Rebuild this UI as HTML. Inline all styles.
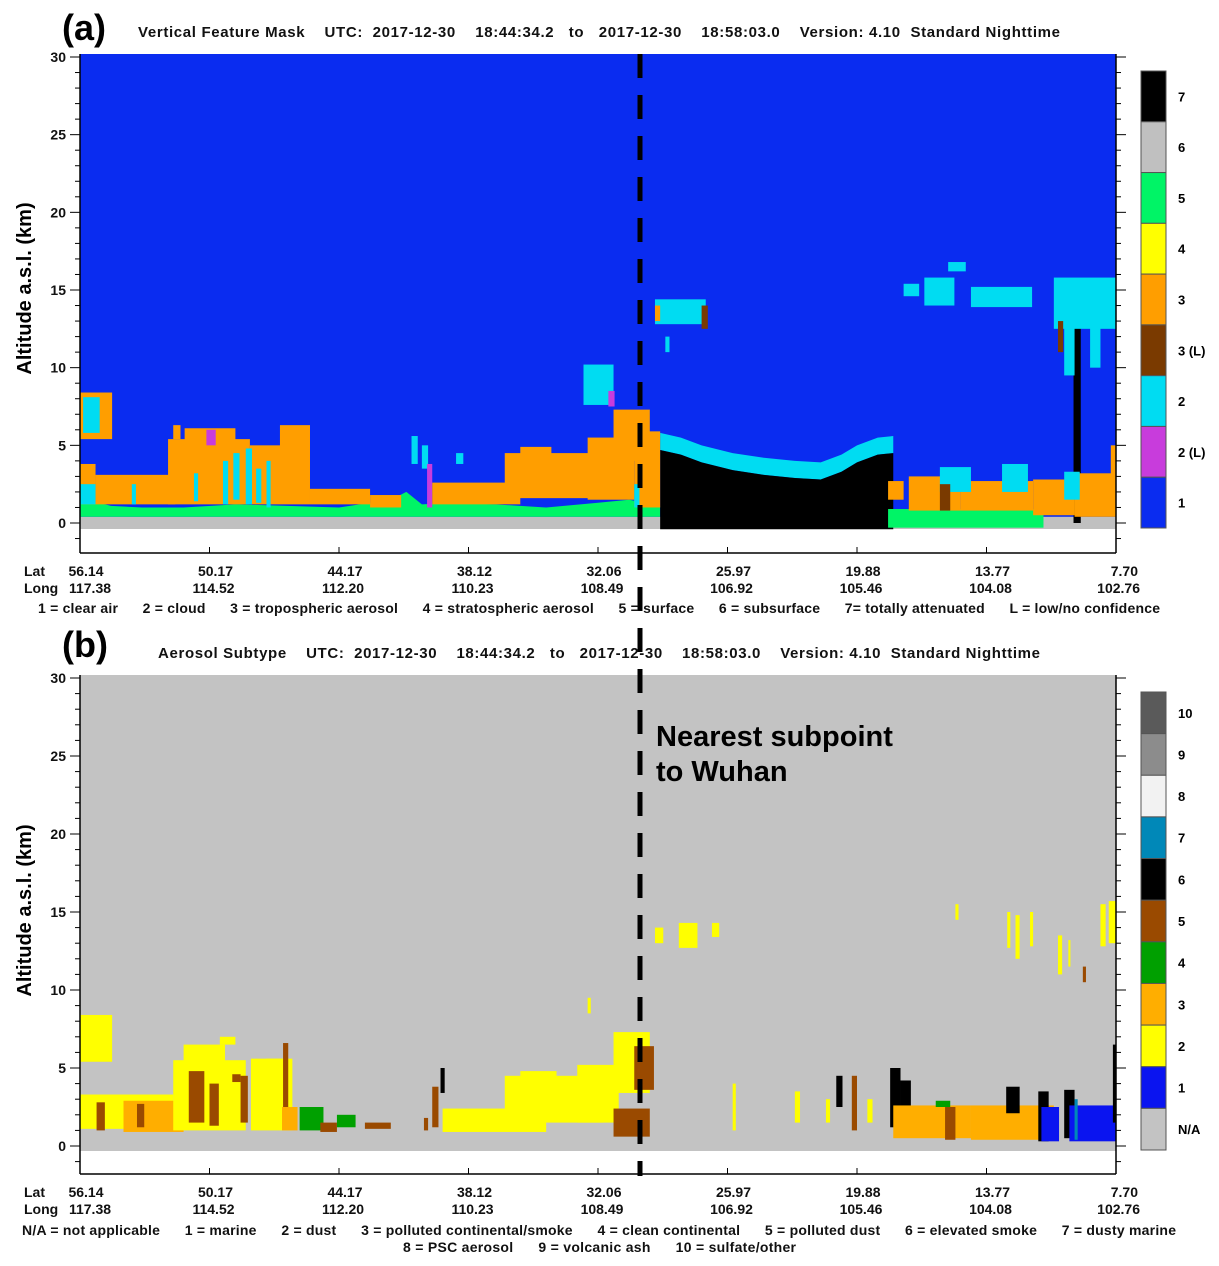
<!DOCTYPE html>
<html><head><meta charset="utf-8">
<style>
html,body{margin:0;padding:0;background:#fff;}
svg{display:block;font-family:"Liberation Sans",sans-serif;}
.t{font-weight:bold;font-size:15px;fill:#111;}
.tk{font-weight:bold;font-size:14px;fill:#111;}
</style></head>
<body>
<svg id="chart" width="1219" height="1266" viewBox="0 0 1219 1266" xmlns="http://www.w3.org/2000/svg">
<g id="root"></g>
</svg>
<script>
// ---------- data ----------
const latLabels=["56.14","50.17","44.17","38.12","32.06","25.97","19.88","13.77","7.70"];
const lonLabels=["117.38","114.52","112.20","110.23","108.49","106.92","105.46","104.08","102.76"];
const altTicks=[0,5,10,15,20,25,30];
const vfmLegend=["7","6","5","4","3","3 (L)","2","2 (L)","1"];
const vfmColors=["#000000","#c0c0c0","#00f466","#ffff00","#ff9e00","#7a3a00","#00dcf2","#c83cdc","#0a2cf0"];
const subLegend=["10","9","8","7","6","5","4","3","2","1","N/A"];
const subColors=["#5a5a5a","#8c8c8c","#f2f2f2","#0088b8","#000000","#9a4a00","#00a000","#ffae00","#ffff00","#0a14f0","#c3c3c3"];
const greenU=[0,3,6,10,15,20,25,30,31.5,33,36,40,45,50,53,56];
const greenTop=[1.6,1.1,1.0,1.0,1.2,1.1,1.0,1.5,2.0,1.2,1.3,1.2,1.0,1.3,1.5,1.1];
const bandU=[56,58,60,63,66,69,71.5,73.5,75,77,78.5];
const bandTop=[5.8,5.5,5.0,4.5,4.2,4.0,3.9,4.4,5.0,5.5,5.6];
const featA=[
[0,3.1,5.4,8.4,"3"],[0.3,1.9,5.8,8.1,"2"],
[0,1.5,1.2,3.8,"3"],[0,1.5,1.2,2.5,"2"],[1.5,9.2,1.2,3.1,"3"],
[8.5,16.4,1.2,5.4,"3"],[10.1,15,4.7,6.1,"3"],[12.2,13.1,5,6,"2L"],[9,9.7,5.4,6.3,"3"],
[16.4,22.2,1.2,5,"3"],[19.3,22.2,4.8,6.3,"3"],
[13.8,14.3,1.2,4],[14.8,15.4,1.5,4.5],[16,16.6,1.2,4.8],[17,17.5,1.3,3.5],[18,18.4,1,4],[5,5.4,1.2,2.5],[11,11.4,1.4,3.2],
[22.2,28,1.2,2.2,"3"],[28,31,1,1.8,"3"],
[32,32.6,3.8,5.6,"2"],[33,33.6,3.5,5,"2"],[36.3,37,3.8,4.5,"2"],[33.5,34,1,3.8,"2L"],
[34,42.5,1.2,2.6,"3"],[41,50.5,1.6,4.5,"3"],[42.5,45.5,3.4,4.9,"3"],[49,53.5,1.5,5.5,"3"],[51.5,55,4,7.3,"3"],
[48.6,51.5,7.6,10.2,"2"],[51,51.6,7.5,8.5,"2L"],[53.5,56,1,5.9,"3"],[53.5,54,1,2.5,"2"],
[95.9,96.6,0,13.5,"7"],
[55.5,60.4,12.8,14.4,"2"],[55.5,56,13,14,"3"],[60,60.6,12.5,14,"3L"],[56.5,56.9,11,12,"2"],
[79.5,81,14.6,15.4,"2"],[81.5,84.4,14,15.8,"2"],[83.8,85.5,16.2,16.8,"2"],[86,91.9,13.9,15.2,"2"],
[94,100,12.5,15.8,"2"],[95,96,9.5,13,"2"],[97.5,98.5,10,13,"2"],[94.4,94.9,11,13,"3L"],
[78,93,-0.3,0.9,"5"],
[78,79.5,1.5,2.7,"3"],[80,85,0.8,3.0,"3"],[85,92,0.8,2.7,"3"],[92,96,0.5,2.8,"3"],[96,100,0.4,3.2,"3"],
[83,86,2,3.6,"2"],[89,91.5,2,3.8,"2"],[95,96.5,1.5,3.3,"2"],[83,84,0.8,2.5,"3L"],[99.5,100,1,5,"3"]
];
const featB=[
[0,3.1,5.4,8.4,"2"],[0,9,1.1,3.3,"2"],[4.2,10,0.9,2.9,"3"],[1.6,2.4,1,2.8,"5"],[5.5,6.2,1.2,2.7,"5"],
[9.3,11.1,1.9,2.6,"4"],[9,16,1,5.5,"2"],[10,14,4.8,6.5,"2"],[13.5,15,6.5,7,"2"],
[10.5,12,1.5,4.8,"5"],[12.5,13.4,1.3,4,"5"],[14.7,15.5,4.1,4.6,"5"],[15.5,16.2,1.5,4.5,"5"],
[16.5,20.5,1,5.6,"2"],[18,20,4,5.6,"2"],[19.6,20.1,1.5,6.6,"5"],[19.5,21,1,2.5,"3"],
[21.2,23.5,1,2.5,"4"],[23.2,24.8,0.9,1.5,"5"],[24.8,26.6,1.2,2,"4"],
[27.5,30,1.1,1.5,"5"],[33.2,33.6,1,1.8,"5"],[34,34.6,1.2,3.8,"5"],[34.8,35.2,3.4,5,"6"],
[35,45,0.9,2.4,"2"],[41,50.5,1.5,4.5,"2"],[42.5,46,3.4,4.8,"2"],[48,52,1.5,5.2,"2"],
[51.5,55,3.4,7.3,"2"],[53.5,55.4,3.6,6.4,"5"],[51.5,55,0.6,2.4,"5"],[49,49.3,8.5,9.5,"2"],
[55.5,56.3,13,14,"2"],[57.8,59.6,12.7,14.3,"2"],[61,61.7,13.4,14.3,"2"],[63,63.3,1,4,"2"],
[69,69.5,1.5,3.5,"2"],[72,72.4,1.5,3,"2"],[73,73.6,2.5,4.5,"6"],[74.5,75,1,4.5,"5"],[76,76.5,1.5,3,"2"],
[78.2,79.2,1.2,5,"6"],[79.2,80.2,2.5,4.2,"6"],
[78.5,86,0.5,2.6,"3"],[86,94,0.4,2.6,"3"],[83.5,84.5,0.4,2.5,"5"],[82.6,84,2.5,2.9,"4"],
[89.4,90.7,2.1,3.8,"6"],[92.5,93.5,0.3,3.5,"6"],[95,96,0.5,3.6,"6"],
[92.8,94.5,0.3,2.5,"1"],[95.5,100,0.3,2.6,"1"],[96,96.3,0.4,3,"7"],[99.7,100,1.5,6.5,"6"],
[89.5,89.8,12.7,15],[90.3,90.7,12,14.8],[91.7,92,12.8,15],[94.4,94.8,11,13.5],[95.4,95.6,11.5,13.2],
[98.5,99,12.8,15.5],[99.3,100,13,15.7],[84.5,84.8,14.5,15.5],[96.8,97.1,10.5,11.5,"5"]
];
const clsA={"1":"#0a2cf0","2":"#00dcf2","2L":"#c83cdc","3":"#ff9e00","3L":"#7a3a00","4":"#ffff00","5":"#00f466","6":"#c0c0c0","7":"#000"};
const clsB={"1":"#0a14f0","2":"#ffff00","3":"#ffae00","4":"#00a000","5":"#9a4a00","6":"#000","7":"#0088b8"};

const NS="http://www.w3.org/2000/svg";
const root=document.getElementById('root');
function mk(tag,attrs,parent){const e=document.createElementNS(NS,tag);for(const k in attrs)e.setAttribute(k,attrs[k]);(parent||root).appendChild(e);return e;}
const X0=80,X1=1116;
const xU=u=>X0+u*(X1-X0)/100;
const panels=[
 {top:54,zero:523,fillBot:529,axis:553,bg:"#0a2cf0",feats:featA,cls:clsA,def:"2",name:"vfm"},
 {top:675,zero:1146,fillBot:1151,axis:1174,bg:"#c3c3c3",feats:featB,cls:clsB,def:"2",name:"subtype"}
];
panels.forEach((p,pi)=>{
 const kmPx=(p.zero-(p.top+3))/30;
 const y=km=>p.zero-km*kmPx;
 const g=mk('g',{});
 
 
 mk('rect',{x:X0,y:p.top,width:X1-X0,height:p.fillBot-p.top,fill:p.bg},g);
 if(pi===0){
  const sr=mk('rect',{x:X0,y:y(0.4),width:X1-X0,height:p.fillBot-y(0.4),fill:"#c0c0c0"},g);
  
  
  let pts=[];
  greenU.forEach((u,i)=>pts.push(xU(u)+","+y(greenTop[i])));
  pts.push(xU(56)+","+y(0.4),xU(0)+","+y(0.4));
  const gp=mk('polygon',{points:pts.join(" "),fill:"#00f466"},g);
  
  
  let bp=[],bl=[];
  bandU.forEach((u,i)=>{bp.push(xU(u)+","+y(bandTop[i]));});
  for(let i=bandU.length-1;i>=0;i--)bl.push(xU(bandU[i])+","+y(bandTop[i]-1.1));
  const cb=mk('polygon',{points:bp.concat(bl).join(" "),fill:"#00dcf2"},g);
  
  
  let kp=[];
  bandU.forEach((u,i)=>kp.push(xU(u)+","+y(bandTop[i]-1.1)));
  kp.push(xU(bandU[bandU.length-1])+","+y(-0.4),xU(bandU[0])+","+y(-0.4));
  const ka=mk('polygon',{points:kp.join(" "),fill:"#000"},g);
  
  
 }
 p.feats.forEach(f=>{
  const c=p.cls[f[4]||p.def];
  const r=mk('rect',{x:xU(f[0]),y:y(f[3]),width:Math.max(1,xU(f[1])-xU(f[0])),height:Math.max(1,y(f[2])-y(f[3])),fill:c},g);
  
  
 });
 mk('line',{x1:X0,y1:p.top,x2:X0,y2:p.axis,stroke:"#000","stroke-width":1.5},g);
 mk('line',{x1:X1,y1:p.top,x2:X1,y2:p.axis,stroke:"#000","stroke-width":1.5},g);
 mk('line',{x1:X0,y1:p.axis,x2:X1,y2:p.axis,stroke:"#000","stroke-width":1.5},g);
 for(let k=-1;k<=30;k++){
  const major=k%5===0;
  const len=major?10:5;
  mk('line',{x1:X0-len,y1:y(k),x2:X0,y2:y(k),stroke:"#000"},g);
  mk('line',{x1:X1,y1:y(k),x2:X1+len,y2:y(k),stroke:"#000"},g);
 }
 altTicks.forEach(t=>{
  const tx=mk('text',{x:X0-14,y:y(t)+5,"text-anchor":"end",class:"tk"},g);
  tx.textContent=t;
  
  
 });
 latLabels.forEach((l,i)=>{
  const xx=X0+i*(X1-X0)/8;
  mk('line',{x1:xx,y1:p.axis-6,x2:xx,y2:p.axis,stroke:"#000"},g);
  const t1=mk('text',{x:i===8?xx+22:xx+6,y:p.axis+23,"text-anchor":i===8?"end":"middle",class:"tk"},g);
  t1.textContent=l;
  
  
  const t2=mk('text',{x:i===0?xx+10:(i===8?xx+24:xx+4),y:p.axis+40,"text-anchor":i===8?"end":"middle",class:"tk"},g);
  t2.textContent=lonLabels[i];
  
  
 });
 const la=mk('text',{x:24,y:p.axis+23,class:"tk"},g);la.textContent="Lat";
 const lo=mk('text',{x:24,y:p.axis+40,class:"tk"},g);lo.textContent="Long";
 const yl=mk('text',{x:0,y:0,transform:`translate(31,${(p.top+p.zero)/2}) rotate(-90)`,"text-anchor":"middle",style:"font-weight:bold;font-size:20px"},g);
 yl.textContent="Altitude a.s.l. (km)";
 
 
 const labs=pi===0?vfmLegend:subLegend, cols=pi===0?vfmColors:subColors;
 const cbTop=p.top+17, cbBot=p.fillBot-1, h=(cbBot-cbTop)/labs.length;
 labs.forEach((l,i)=>{
  const r=mk('rect',{x:1141,y:cbTop+i*h,width:25,height:h,fill:cols[i],stroke:"#555","stroke-width":1},g);
  
  
  const t=mk('text',{x:1178,y:cbTop+i*h+h/2+5,style:"font-weight:bold;font-size:13px"},g);
  t.textContent=l;
  
  
 });
});
const dl=mk('line',{x1:640,y1:54,x2:640,y2:1176,stroke:"#000","stroke-width":5,"stroke-dasharray":"24 17"});


</script>
<svg style="position:absolute;left:0;top:0" width="1219" height="1266" xmlns="http://www.w3.org/2000/svg">
<text x="62" y="40" style="font-weight:bold;font-size:36px">(a)</text>
<text x="138" y="37" class="t" textLength="922" lengthAdjust="spacing" xml:space="preserve">Vertical Feature Mask    UTC:  2017-12-30    18:44:34.2   to   2017-12-30    18:58:03.0    Version: 4.10  Standard Nighttime</text>
<text x="38" y="613" class="tk" textLength="1122" lengthAdjust="spacing" xml:space="preserve">1 = clear air      2 = cloud      3 = tropospheric aerosol      4 = stratospheric aerosol      5 = surface      6 = subsurface      7= totally attenuated      L = low/no confidence</text>
<text x="62" y="657" style="font-weight:bold;font-size:36px">(b)</text>
<text x="158" y="658" class="t" textLength="882" lengthAdjust="spacing" xml:space="preserve">Aerosol Subtype    UTC:  2017-12-30    18:44:34.2   to   2017-12-30    18:58:03.0    Version: 4.10  Standard Nighttime</text>
<text x="22" y="1235" class="tk" textLength="1154" lengthAdjust="spacing" xml:space="preserve">N/A = not applicable      1 = marine      2 = dust      3 = polluted continental/smoke      4 = clean continental      5 = polluted dust      6 = elevated smoke      7 = dusty marine</text>
<text x="403" y="1252" class="tk" textLength="393" lengthAdjust="spacing" xml:space="preserve">8 = PSC aerosol      9 = volcanic ash      10 = sulfate/other</text>
<text x="656" y="746" style="font-weight:bold;font-size:29px">Nearest subpoint</text>
<text x="656" y="781" style="font-weight:bold;font-size:29px">to Wuhan</text>
</svg>
</body></html>
